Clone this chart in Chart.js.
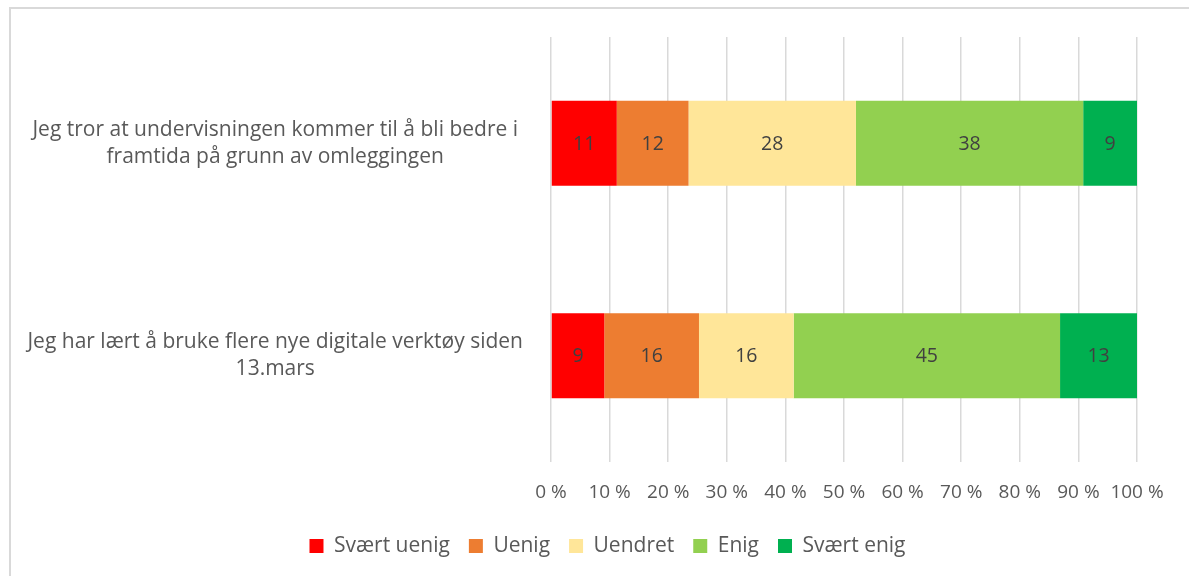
<!DOCTYPE html>
<html>
<head>
<meta charset="utf-8">
<script src="https://cdn.jsdelivr.net/npm/chart.js@4.4.1/dist/chart.umd.min.js"></script>
<style>
  html, body { margin: 0; padding: 0; background: #ffffff; }
  #wrap { position: relative; width: 1189px; height: 576px; overflow: hidden; }
  #frame { position: absolute; left: 9px; top: 7px; width: 1300px; height: 700px;
           border-left: 2px solid #d9d9d9; border-top: 2px solid #d9d9d9; box-sizing: border-box; }
  #box { position: absolute; left: 0; top: 0; width: 1189px; height: 576px; }
</style>
</head>
<body>
<div id="wrap">
  <div id="frame"></div>
  <div id="box"><canvas id="c"></canvas></div>
</div>
<script>
// ---- Data ----
const categories = [
  ["Jeg tror at undervisningen kommer til å bli bedre i", "framtida på grunn av omleggingen"],
  ["Jeg har lært å bruke flere nye digitale verktøy siden", "13.mars"]
];
const seriesNames = ["Svært uenig", "Uenig", "Uendret", "Enig", "Svært enig"];
const svaertUenig = [11, 9];
const uenig = [12, 16];
const uendret = [28, 16];
const enig = [38, 45];
const svaertEnig = [9, 13];
const tickValues = [0, 10, 20, 30, 40, 50, 60, 70, 80, 90, 100];

const seriesValues = [svaertUenig, uenig, uendret, enig, svaertEnig];
const seriesColors = ["#FF0000", "#ED7D31", "#FFE699", "#92D050", "#00B050"];

// 100% stacked: share of each row total
const rowTotals = categories.map((_, i) => seriesValues.reduce((s, arr) => s + arr[i], 0));

const FONT = "'Open Sans', sans-serif";
const TEXT = "#595959";

const datasets = seriesValues.map((vals, k) => ({
  label: seriesNames[k],
  data: vals.map((v, i) => v / rowTotals[i] * 100),
  rawValues: vals,
  backgroundColor: seriesColors[k],
  borderWidth: 0,
  barPercentage: 0.4,
  categoryPercentage: 1.0
}));

const valueLabels = {
  id: 'valueLabels',
  afterDatasetsDraw(chart) {
    const ctx = chart.ctx;
    ctx.save();
    ctx.font = "19.5px " + FONT;
    ctx.fillStyle = "#404040";
    ctx.textAlign = "center";
    ctx.textBaseline = "middle";
    chart.data.datasets.forEach((ds, di) => {
      const meta = chart.getDatasetMeta(di);
      meta.data.forEach((el, i) => {
        const p = el.getCenterPoint();
        ctx.fillText(String(ds.rawValues[i]), p.x, p.y + 1);
      });
    });
    ctx.restore();
  }
};

// shift the legend's horizontal span so it centres like the reference
const legendShift = {
  id: 'legendShift',
  afterLayout(chart) {
    if (chart.legend) { chart.legend.left = 78; }
  }
};

function noPad(scale) {
  scale.paddingTop = 0; scale.paddingBottom = 0;
  scale.paddingLeft = 0; scale.paddingRight = 0;
}

new Chart(document.getElementById('c'), {
  type: 'bar',
  data: { labels: categories, datasets: datasets },
  plugins: [valueLabels, legendShift],
  options: {
    indexAxis: 'y',
    responsive: true,
    maintainAspectRatio: false,
    animation: false,
    events: [],
    layout: { padding: { top: 37, right: 52, bottom: 9.5, left: 0 } },
    scales: {
      x: {
        stacked: true,
        min: 0, max: 100,
        afterBuildTicks(scale) { scale.ticks = tickValues.map(v => ({ value: v })); },
        ticks: {
          callback: (v) => v + '\u00a0%',
          color: TEXT,
          font: { family: FONT, size: 19 },
          padding: 19,
          maxRotation: 0,
          autoSkip: false
        },
        grid: { color: '#D9D9D9', lineWidth: 1.5, drawTicks: false },
        border: { display: false },
        afterFit(scale) { scale.height = 54.5; noPad(scale); }
      },
      y: {
        stacked: true,
        ticks: {
          color: TEXT,
          font: { family: FONT, size: 21, lineHeight: 1.3 },
          crossAlign: 'center',
          padding: 28
        },
        grid: { display: false, drawTicks: false },
        border: { display: false },
        afterFit(scale) { scale.width = 551; noPad(scale); }
      }
    },
    plugins: {
      legend: {
        position: 'bottom',
        labels: {
          color: TEXT,
          font: { family: FONT, size: 21 },
          boxWidth: 14,
          boxHeight: 14,
          padding: 19
        }
      },
      tooltip: { enabled: false }
    }
  }
});
</script>
</body>
</html>
